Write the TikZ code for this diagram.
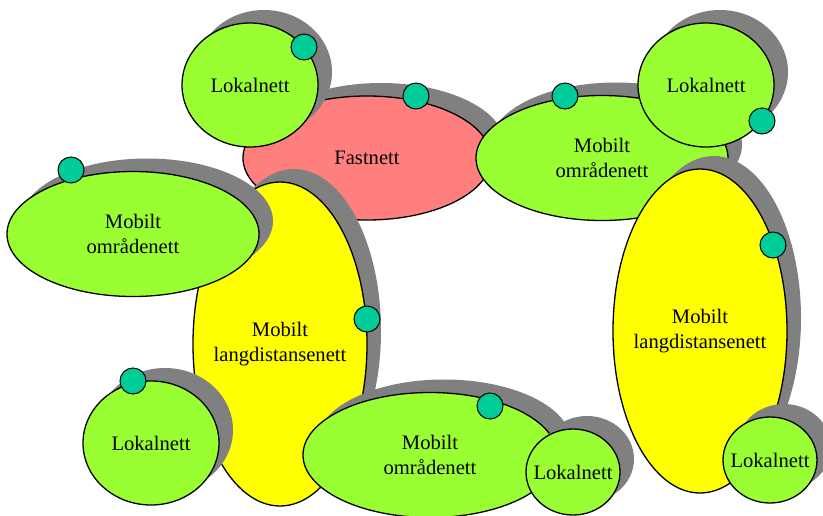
\documentclass[tikz,border=0pt]{standalone}
\usepackage{fontspec}
\setmainfont{Liberation Serif}
\usetikzlibrary{shapes.geometric,shadows}
\definecolor{netgreen}{HTML}{99FF33}
\definecolor{netred}{HTML}{FF7F7F}
\definecolor{netyellow}{HTML}{FFFF00}
\definecolor{portteal}{HTML}{00CC99}
\definecolor{shadowgray}{HTML}{808080}
\begin{document}
\begin{tikzpicture}[x=1pt,y=-1pt,
  net/.style={ellipse, draw=black, line width=1.3pt, inner sep=0pt,
    drop shadow={shadow xshift=14pt, shadow yshift=13pt, fill=shadowgray, opacity=1}},
  fixednet/.style={net, fill=netred, minimum width=248pt, minimum height=124pt},
  areanet/.style={net, fill=netgreen, minimum width=252pt, minimum height=125pt},
  longnet/.style={net, fill=netyellow, minimum width=174pt, minimum height=324pt},
  lan/.style={net, fill=netgreen, minimum width=136pt, minimum height=124pt},
  smalllan/.style={net, fill=netgreen, minimum width=94pt, minimum height=86pt},
  lbl/.style={align=center, font=\fontsize{20.6}{25}\selectfont, inner sep=0pt},
  port/.style={circle, draw=black, line width=1pt, fill=portteal,
    minimum size=26pt, inner sep=0pt}]
\useasboundingbox (0,0) rectangle (823,515);

% fixed network and its neighbours at the top
\node[fixednet] (fast) at (367,158) {};
\node[lbl] (fast-t) at (fast) {Fastnett};
\node[lan] (lanA) at (250,85) {};
\node[lbl] (lanA-t) at (lanA) {Lokalnett};
\node[areanet] (areaR) at (602,158) {};
\node[lbl] (areaR-t) at (areaR) {Mobilt\\områdenett};
\node[lan] (lanB) at (706,85) {};
\node[lbl] (lanB-t) at (lanB) {Lokalnett};

% right long-distance branch
\node[longnet] (longR) at (700,331) {};
\node[lbl] (longR-t) at (longR) {Mobilt\\langdistansenett};
\node[smalllan] (lanC) at (770,460) {};
\node[lbl] (lanC-t) at (lanC) {Lokalnett};

% left long-distance branch
\node[longnet] (longL) at (280,344) {};
\node[lbl] (longL-t) at (longL) {Mobilt\\langdistansenett};
\node[areanet] (areaL) at (133,234) {};
\node[lbl] (areaL-t) at (areaL) {Mobilt\\områdenett};
\node[lan] (lanD) at (151,443) {};
\node[lbl] (lanD-t) at (lanD) {Lokalnett};
\node[areanet, minimum width=254pt] (areaB) at (430,455) {};
\node[lbl] (areaB-t) at (areaB) {Mobilt\\områdenett};
\node[smalllan] (lanE) at (573,472) {};
\node[lbl] (lanE-t) at (lanE) {Lokalnett};

% connection points
\node[port] (p1) at (304,47) {};
\node[port] (p2) at (416,96) {};
\node[port] (p3) at (565,96) {};
\node[port] (p4) at (762,121) {};
\node[port] (p5) at (71,170) {};
\node[port] (p6) at (367,319) {};
\node[port] (p7) at (133,381) {};
\node[port] (p8) at (490,406) {};
\node[port] (p9) at (773,245) {};
\end{tikzpicture}
\end{document}
